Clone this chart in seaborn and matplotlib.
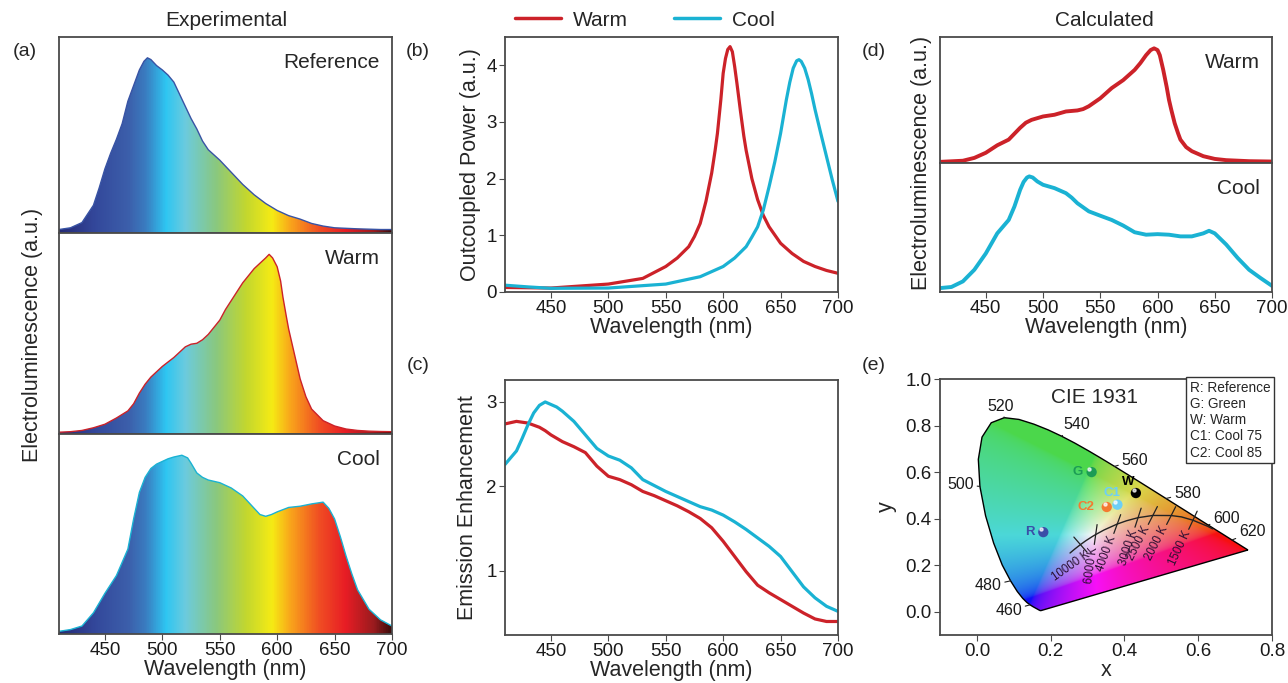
import numpy as np
import matplotlib
matplotlib.use("Agg")
import matplotlib.pyplot as plt
from matplotlib.colors import LinearSegmentedColormap
from matplotlib.patches import Polygon
from matplotlib.lines import Line2D
import seaborn as sns

# ---------------- data ----------------
# (a) measured electroluminescence, normalised to peak
ref_wl = [410, 420, 430, 440, 445, 450, 455, 460, 465, 470, 475, 480, 484, 487, 490, 495, 500, 505, 510,
          515, 520, 525, 530, 535, 540, 545, 550, 560, 570, 580, 590, 600, 610, 620, 630, 640, 650, 660,
          670, 680, 690, 700]
ref_el = [0.01, 0.02, 0.05, 0.15, 0.25, 0.36, 0.45, 0.53, 0.62, 0.75, 0.84, 0.93, 0.98, 1.0, 0.99, 0.955,
          0.93, 0.9, 0.86, 0.79, 0.72, 0.65, 0.59, 0.52, 0.47, 0.44, 0.41, 0.34, 0.27, 0.21, 0.16, 0.12,
          0.09, 0.07, 0.045, 0.03, 0.02, 0.017, 0.014, 0.012, 0.01, 0.01]

warm_wl = [410, 420, 430, 440, 450, 460, 470, 475, 480, 485, 490, 500, 510, 520, 525, 530, 535, 540,
           545, 550, 555, 560, 565, 570, 575, 580, 585, 590, 593, 596, 600, 603, 605, 608, 610, 615, 620,
           625, 630, 640, 650, 660, 670, 680, 690, 700]
warm_el = [0.0, 0.003, 0.01, 0.025, 0.045, 0.08, 0.12, 0.16, 0.22, 0.27, 0.31, 0.37, 0.42, 0.48, 0.495,
           0.50, 0.52, 0.55, 0.59, 0.63, 0.69, 0.74, 0.79, 0.84, 0.88, 0.92, 0.95, 0.98, 1.0, 0.98, 0.93,
           0.85, 0.76, 0.65, 0.58, 0.44, 0.30, 0.20, 0.13, 0.065, 0.035, 0.018, 0.01, 0.006, 0.004, 0.003]

cool_wl = [410, 420, 430, 440, 450, 460, 470, 475, 480, 485, 490, 495, 500, 505, 510, 517, 522, 525,
           530, 535, 540, 550, 560, 570, 580, 585, 590, 595, 600, 610, 620, 630, 640, 645, 650, 655,
           660, 665, 670, 680, 690, 700]
cool_el = [0.005, 0.015, 0.035, 0.11, 0.22, 0.32, 0.47, 0.64, 0.79, 0.875, 0.925, 0.95, 0.965, 0.98, 0.99,
           1.0, 0.985, 0.955, 0.90, 0.875, 0.86, 0.845, 0.815, 0.77, 0.70, 0.665, 0.655, 0.665, 0.68,
           0.705, 0.712, 0.725, 0.735, 0.70, 0.64, 0.54, 0.43, 0.33, 0.24, 0.13, 0.07, 0.035]

# (b) outcoupled power
pw_warm_wl = [410, 450, 500, 530, 550, 560, 570, 575, 580, 585, 588, 590, 593, 595, 598, 600, 602, 604,
              606, 608, 610, 612, 615, 618, 620, 625, 630, 635, 640, 650, 660, 670, 680, 690, 700]
pw_warm = [0.08, 0.07, 0.14, 0.24, 0.45, 0.6, 0.80, 0.98, 1.21, 1.6, 1.9, 2.1, 2.5, 2.8, 3.4, 3.86, 4.12,
           4.28, 4.33, 4.24, 3.98, 3.68, 3.2, 2.75, 2.5, 2.0, 1.63, 1.35, 1.15, 0.86, 0.68, 0.54, 0.45,
           0.38, 0.33]
pw_cool_wl = [410, 430, 450, 500, 550, 580, 600, 610, 620, 625, 630, 635, 640, 645, 650, 655, 658, 661,
              664, 666, 668, 671, 674, 677, 680, 685, 690, 695, 700]
pw_cool = [0.12, 0.09, 0.065, 0.07, 0.14, 0.27, 0.45, 0.6, 0.80, 0.97, 1.15, 1.45, 1.86, 2.3, 2.8, 3.39,
           3.7, 3.95, 4.08, 4.1, 4.07, 3.95, 3.75, 3.5, 3.22, 2.8, 2.39, 1.98, 1.6]

# (c) emission enhancement
enh_warm_wl = [410, 420, 430, 440, 445, 450, 460, 470, 480, 490, 500, 510, 520, 530, 540, 550, 560, 570,
               580, 590, 600, 610, 620, 630, 640, 650, 660, 670, 680, 690, 700]
enh_warm = [2.74, 2.77, 2.75, 2.70, 2.66, 2.61, 2.53, 2.47, 2.40, 2.24, 2.12, 2.08, 2.02, 1.94, 1.89, 1.83,
            1.77, 1.70, 1.62, 1.51, 1.35, 1.17, 0.99, 0.83, 0.74, 0.66, 0.58, 0.50, 0.43, 0.40, 0.40]
enh_cool_wl = [410, 420, 425, 430, 435, 440, 445, 450, 455, 460, 470, 480, 490, 500, 510, 520, 530, 540,
               550, 560, 570, 580, 590, 600, 610, 620, 630, 640, 650, 660, 670, 680, 690, 700]
enh_cool = [2.26, 2.42, 2.57, 2.73, 2.87, 2.96, 3.0, 2.97, 2.94, 2.89, 2.77, 2.61, 2.45, 2.36, 2.31, 2.22,
            2.08, 2.01, 1.94, 1.88, 1.82, 1.76, 1.72, 1.66, 1.58, 1.49, 1.39, 1.29, 1.17, 0.99, 0.81,
            0.68, 0.58, 0.52]

# (d) calculated EL
calc_warm_wl = [410, 430, 440, 450, 460, 470, 480, 485, 490, 500, 510, 520, 530, 535, 540, 550, 560, 570,
                580, 585, 590, 594, 597, 600, 602, 605, 608, 610, 612, 615, 618, 620, 625, 630, 640, 650,
                660, 680, 700]
calc_warm = [0.0, 0.01, 0.035, 0.08, 0.146, 0.196, 0.30, 0.345, 0.37, 0.40, 0.415, 0.444, 0.453, 0.465,
             0.49, 0.56, 0.65, 0.72, 0.81, 0.87, 0.94, 0.985, 1.0, 0.985, 0.94, 0.81, 0.66, 0.547, 0.46,
             0.34, 0.25, 0.196, 0.13, 0.094, 0.05, 0.026, 0.015, 0.006, 0.003]
calc_cool_wl = [410, 420, 430, 440, 450, 455, 460, 465, 470, 475, 480, 483, 486, 488, 491, 495, 500, 510,
                520, 525, 530, 540, 550, 560, 570, 580, 590, 600, 610, 620, 630, 640, 645, 650, 655, 660,
                670, 680, 690, 700]
calc_cool = [0.0, 0.01, 0.06, 0.164, 0.31, 0.40, 0.49, 0.55, 0.61, 0.73, 0.88, 0.95, 0.99, 1.0, 0.99,
             0.955, 0.925, 0.895, 0.85, 0.81, 0.76, 0.687, 0.648, 0.61, 0.56, 0.50, 0.478, 0.483, 0.478,
             0.463, 0.463, 0.49, 0.513, 0.49, 0.44, 0.39, 0.27, 0.164, 0.09, 0.02]

# (e) CIE 1931 spectral locus
locus_wl = [380, 400, 420, 430, 440, 450, 455, 460, 465, 470, 475, 480, 485, 490, 495, 500, 505, 510,
            515, 520, 525, 530, 535, 540, 545, 550, 555, 560, 565, 570, 575, 580, 585, 590, 595, 600,
            605, 610, 620, 630, 640, 650, 660, 680, 700]
locus_x = [0.1741, 0.1733, 0.1714, 0.1689, 0.1644, 0.1566, 0.1510, 0.1440, 0.1355, 0.1241, 0.1096,
           0.0913, 0.0687, 0.0454, 0.0235, 0.0082, 0.0039, 0.0139, 0.0389, 0.0743, 0.1142, 0.1547,
           0.1929, 0.2296, 0.2658, 0.3016, 0.3373, 0.3731, 0.4087, 0.4441, 0.4788, 0.5125, 0.5448,
           0.5752, 0.6029, 0.6270, 0.6482, 0.6658, 0.6915, 0.7079, 0.7190, 0.7260, 0.7300, 0.7334, 0.7347]
locus_y = [0.0050, 0.0048, 0.0051, 0.0069, 0.0109, 0.0177, 0.0227, 0.0297, 0.0399, 0.0578, 0.0868,
           0.1327, 0.2007, 0.2950, 0.4127, 0.5384, 0.6548, 0.7502, 0.8120, 0.8338, 0.8262, 0.8059,
           0.7816, 0.7543, 0.7243, 0.6923, 0.6589, 0.6245, 0.5896, 0.5547, 0.5202, 0.4866, 0.4544,
           0.4242, 0.3965, 0.3725, 0.3514, 0.3340, 0.3083, 0.2920, 0.2809, 0.2740, 0.2700, 0.2666, 0.2653]

planck_T = [20000, 15000, 10000, 8000, 6500, 6000, 5000, 4000, 3500, 3000, 2500, 2000, 1750, 1500, 1200, 1100]
planck_x = [0.2525, 0.2637, 0.2807, 0.2950, 0.3135, 0.3221, 0.3451, 0.3805, 0.4053, 0.4369, 0.4770,
            0.5267, 0.5545, 0.5857, 0.6251, 0.6390]
planck_y = [0.2523, 0.2673, 0.2884, 0.3048, 0.3237, 0.3318, 0.3516, 0.3768, 0.3907, 0.4041, 0.4137,
            0.4133, 0.4075, 0.3931, 0.3674, 0.3560]
iso_T = [10000, 6000, 4000, 3000, 2500, 2000, 1500]

pt_names = ["R", "G", "W", "C1", "C2"]
pt_x = [0.18, 0.311, 0.431, 0.381, 0.352]
pt_y = [0.342, 0.600, 0.510, 0.460, 0.450]
pt_legend = ["R: Reference", "G: Green", "W: Warm", "C1: Cool 75", "C2: Cool 85"]

# ---------------- style ----------------
RED = "#cc2229"
CYAN = "#1ab2d3"
REFBLUE = "#3853a4"
W, H = 1288, 683

sns.set_style("ticks")
plt.rcParams['font.family'] = ['Liberation Sans', 'DejaVu Sans']
plt.rcParams['axes.edgecolor'] = '#4a4a4a'
plt.rcParams['axes.linewidth'] = 1.3
plt.rcParams['xtick.color'] = '#4a4a4a'
plt.rcParams['ytick.color'] = '#4a4a4a'
plt.rcParams['xtick.labelcolor'] = '#1a1a1a'
plt.rcParams['ytick.labelcolor'] = '#1a1a1a'
plt.rcParams['xtick.labelsize'] = 13.5
plt.rcParams['ytick.labelsize'] = 13.5
plt.rcParams['axes.labelsize'] = 15.5
plt.rcParams['xtick.major.size'] = 4
plt.rcParams['ytick.major.size'] = 4
plt.rcParams['xtick.major.pad'] = 2
plt.rcParams['ytick.major.pad'] = 2

fig = plt.figure(figsize=(W / 100, H / 100), dpi=100)


def px_box(l, t, r, b):
    return [l / W, 1 - b / H, (r - l) / W, (b - t) / H]


spec_stops = [(410, '#252a76'), (440, '#33479a'), (470, '#3c5fab'), (485, '#3a7cc0'), (503, '#2ec6f2'),
              (520, '#6ccbde'), (547, '#8ac87e'), (573, '#c2d72f'), (596, '#f6eb14'), (612, '#f9a51b'),
              (637, '#f04e23'), (660, '#e81d25'), (685, '#9a1b1e'), (700, '#3d0c0c')]
spec_cmap = LinearSegmentedColormap.from_list(
    "spec", [((w - 410) / 290, c) for w, c in spec_stops])

# ---------------- (a) experimental ----------------
a_bounds = [37, 233, 434, 634]
a_series = [(ref_wl, ref_el, REFBLUE, "Reference"),
            (warm_wl, warm_el, RED, "Warm"),
            (cool_wl, cool_el, CYAN, "Cool")]
for i, (wl, val, col, name) in enumerate(a_series):
    ax = fig.add_axes(px_box(59, a_bounds[i], 392, a_bounds[i + 1]))
    ax.set_xlim(410, 700)
    ax.set_ylim(-0.01, 1.12)
    grad = np.linspace(0, 1, 400)[None, :]
    im = ax.imshow(grad, extent=[410, 700, -0.01, 1.12], aspect='auto', cmap=spec_cmap, origin='lower')
    poly = Polygon([(wl[0], -0.01)] + list(zip(wl, val)) + [(wl[-1], -0.01)],
                   closed=True, fc='none', ec='none', transform=ax.transData)
    ax.add_patch(poly)
    im.set_clip_path(poly)
    sns.lineplot(x=wl, y=val, ax=ax, color=col, lw=1.0)
    ax.set_yticks([])
    ax.set_ylabel("")
    ax.text(0.964, 1 - 16 / (a_bounds[i + 1] - a_bounds[i]), name, transform=ax.transAxes,
            ha='right', va='top', fontsize=15)
    if i < 2:
        ax.tick_params(axis='x', bottom=False, labelbottom=False)
    else:
        ax.set_xticks([450, 500, 550, 600, 650, 700])
        ax.set_xlabel("Wavelength (nm)", labelpad=0)

# ---------------- (b) outcoupled power ----------------
ax_b = fig.add_axes(px_box(505, 37, 838, 292))
sns.lineplot(x=pw_warm_wl, y=pw_warm, ax=ax_b, color=RED, lw=2.3)
sns.lineplot(x=pw_cool_wl, y=pw_cool, ax=ax_b, color=CYAN, lw=2.3)
ax_b.set_xlim(410, 700)
ax_b.set_ylim(0, 4.5)
ax_b.set_xticks([450, 500, 550, 600, 650, 700])
ax_b.set_yticks([0, 1, 2, 3, 4])
ax_b.set_xlabel("Wavelength (nm)", labelpad=0)
ax_b.set_ylabel("Outcoupled Power (a.u.)", labelpad=4)

# ---------------- (c) emission enhancement ----------------
ax_c = fig.add_axes(px_box(505, 380, 838, 635))
sns.lineplot(x=enh_warm_wl, y=enh_warm, ax=ax_c, color=RED, lw=2.3)
sns.lineplot(x=enh_cool_wl, y=enh_cool, ax=ax_c, color=CYAN, lw=2.3)
ax_c.set_xlim(410, 700)
ax_c.set_ylim(0.24, 3.26)
ax_c.set_xticks([450, 500, 550, 600, 650, 700])
ax_c.set_yticks([1, 2, 3])
ax_c.set_xlabel("Wavelength (nm)", labelpad=0)
ax_c.set_ylabel("Emission Enhancement", labelpad=6)

# ---------------- (d) calculated ----------------
d_bounds = [37, 163, 292]
d_series = [(calc_warm_wl, calc_warm, RED, "Warm", (-0.01, 1.1)),
            (calc_cool_wl, calc_cool, CYAN, "Cool", (-0.035, 1.12))]
for i, (wl, val, col, name, yl) in enumerate(d_series):
    ax = fig.add_axes(px_box(940, d_bounds[i], 1272, d_bounds[i + 1]))
    sns.lineplot(x=wl, y=val, ax=ax, color=col, lw=2.8)
    ax.set_xlim(410, 700)
    ax.set_ylim(*yl)
    ax.set_yticks([])
    ax.set_ylabel("")
    ax.text(0.964, 1 - 16 / (d_bounds[i + 1] - d_bounds[i]), name, transform=ax.transAxes,
            ha='right', va='top', fontsize=15)
    if i == 0:
        ax.tick_params(axis='x', bottom=False, labelbottom=False)
    else:
        ax.set_xticks([450, 500, 550, 600, 650, 700])
        ax.set_xlabel("Wavelength (nm)", labelpad=0)

# ---------------- (e) CIE 1931 ----------------
ax_e = fig.add_axes(px_box(940, 379, 1272, 635))
ax_e.set_xlim(-0.1, 0.8)
ax_e.set_ylim(-0.1, 1.0)

# chromaticity colours (sRGB, clipped), greens muted like the printed figure
gx, gy = np.meshgrid(np.linspace(0, 0.75, 400), np.linspace(0.001, 0.85, 400))
X = gx / gy
Y = np.ones_like(gx)
Z = (1 - gx - gy) / gy
r = 3.2406 * X - 1.5372 * Y - 0.4986 * Z
g = -0.9689 * X + 1.8758 * Y + 0.0415 * Z
b = 0.0557 * X - 0.2040 * Y + 1.0570 * Z
rgb = np.clip(np.dstack([r, g, b]), 0, None)
rgb = rgb / rgb.max(axis=2, keepdims=True).clip(1e-6)
rgb = np.where(rgb <= 0.0031308, 12.92 * rgb, 1.055 * rgb ** (1 / 2.4) - 0.055)
k = 0.9 - 0.35 * rgb[..., 1:2] * (1 - rgb.min(axis=2, keepdims=True))
rgb = k * rgb + (1 - k) * 0.66
im = ax_e.imshow(np.clip(rgb, 0, 1), extent=[0, 0.75, 0.001, 0.85], origin='lower',
                 aspect='auto', interpolation='bilinear')
locus_poly = Polygon(list(zip(locus_x, locus_y)), closed=True, fc='none', ec='black', lw=1.0,
                     transform=ax_e.transData)
ax_e.add_patch(locus_poly)
im.set_clip_path(locus_poly)

sx = 332 / 0.9
sy = 256 / 1.1
lab_wl = [460, 480, 500, 520, 540, 560, 580, 600, 620]
lab_off = [(-8, -6), (-9, -5), (-6, 2), (-4, 4), (2, 4), (7, 6), (8, 5), (5, 7), (7, 8)]
lab_ha = ['right', 'right', 'right', 'center', 'left', 'left', 'left', 'left', 'left']
lab_va = ['center', 'center', 'center', 'bottom', 'bottom', 'center', 'center', 'center', 'center']
for wl, off, ha, va in zip(lab_wl, lab_off, lab_ha, lab_va):
    k = locus_wl.index(wl)
    ax_e.annotate(str(wl), xy=(locus_x[k], locus_y[k]), xytext=(off[0] * 0.72, off[1] * 0.72),
                  textcoords='offset points', ha=ha, va=va, fontsize=11.5, color='#1a1a1a',
                  arrowprops=dict(arrowstyle='-', lw=0.8, color='#222', shrinkA=0, shrinkB=0))

sns.lineplot(x=planck_x, y=planck_y, ax=ax_e, color='#222', lw=1.0)
iso_ang = [131, 82, 70, 72, 63, 63, 65]
iso_rot = [35, 82, 70, 72, 63, 63, 65]
for T, ang, rot in zip(iso_T, iso_ang, iso_rot):
    k = planck_T.index(T)
    dx = np.cos(np.radians(ang)) * 10 / sx
    dy = np.sin(np.radians(ang)) * 10 / sy
    x0, y0 = planck_x[k], planck_y[k]
    ax_e.plot([x0 - dx, x0 + dx], [y0 - dy, y0 + dy], color='#222', lw=0.9)
    lx = x0 - dx * 1.25
    ly = y0 - dy * 1.25
    ax_e.text(lx, ly, f"{T} K", rotation=rot, rotation_mode='anchor', ha='right', va='center',
              fontsize=8.3, color='#2a1030')

pt_colors = ['#3a4fa8', '#1b9c55', '#000000', '#6dcff6', '#f47a30']
pt_lab_off = [(-9, 0), (-9, 0), (-8, 11), (-5, 12), (-12, 0)]
sns.scatterplot(x=pt_x, y=pt_y, hue=pt_names, palette=pt_colors, s=55, legend=False,
                edgecolor='none', ax=ax_e, zorder=5)
ax_e.scatter(np.array(pt_x) - 0.006, np.array(pt_y) + 0.012, s=5, c='white', alpha=0.7, zorder=6)
for name, x, y, c, off in zip(pt_names, pt_x, pt_y, pt_colors, pt_lab_off):
    ax_e.annotate(name, xy=(x, y), xytext=(off[0] * 0.72, off[1] * 0.72), textcoords='offset points',
                  ha='right' if off[1] == 0 else 'center', va='center', fontsize=9.5,
                  fontweight='bold', color=c)

ax_e.text(0.32, 0.92, "CIE 1931", ha='center', va='center', fontsize=15)
ax_e.text(0.995, 0.993, "\n".join(pt_legend), transform=ax_e.transAxes, ha='right', va='top',
          multialignment='left', fontsize=9.8, linespacing=1.2,
          bbox=dict(boxstyle='square,pad=0.25', fc='white', ec='#333', lw=1.0))
ax_e.set_xticks([0.0, 0.2, 0.4, 0.6, 0.8])
ax_e.set_yticks([0.0, 0.2, 0.4, 0.6, 0.8, 1.0])
ax_e.set_xticklabels(["0.0", "0.2", "0.4", "0.6", "0.8"])
ax_e.set_yticklabels(["0.0", "0.2", "0.4", "0.6", "0.8", "1.0"])
ax_e.set_xlabel("x", labelpad=0)
ax_e.set_ylabel("y", labelpad=6)

# ---------------- figure labels ----------------
fig.text(226 / W, 1 - 20 / H, "Experimental", ha='center', va='center', fontsize=15)
fig.text(1104 / W, 1 - 20 / H, "Calculated", ha='center', va='center', fontsize=15)
fig.text(33 / W, 1 - 335 / H, "Electroluminescence (a.u.)", rotation=90, ha='center', va='center',
         fontsize=15.5)
fig.text(921 / W, 1 - 163 / H, "Electroluminescence (a.u.)", rotation=90, ha='center', va='center',
         fontsize=15.5)
for lab, x, y in [("(a)", 25, 52), ("(b)", 418, 52), ("(c)", 418, 366), ("(d)", 874, 52), ("(e)", 874, 366)]:
    fig.text(x / W, 1 - y / H, lab, ha='center', va='center', fontsize=14)

handles = [Line2D([], [], color=RED, lw=2.5), Line2D([], [], color=CYAN, lw=2.5)]
fig.legend(handles, ["Warm", "Cool"], loc='center', bbox_to_anchor=(645 / W, 1 - 20 / H), ncol=2,
           frameon=False, fontsize=15, handlelength=2.2, columnspacing=2.2, handletextpad=0.6)

fig.savefig("out.png", dpi=100)
